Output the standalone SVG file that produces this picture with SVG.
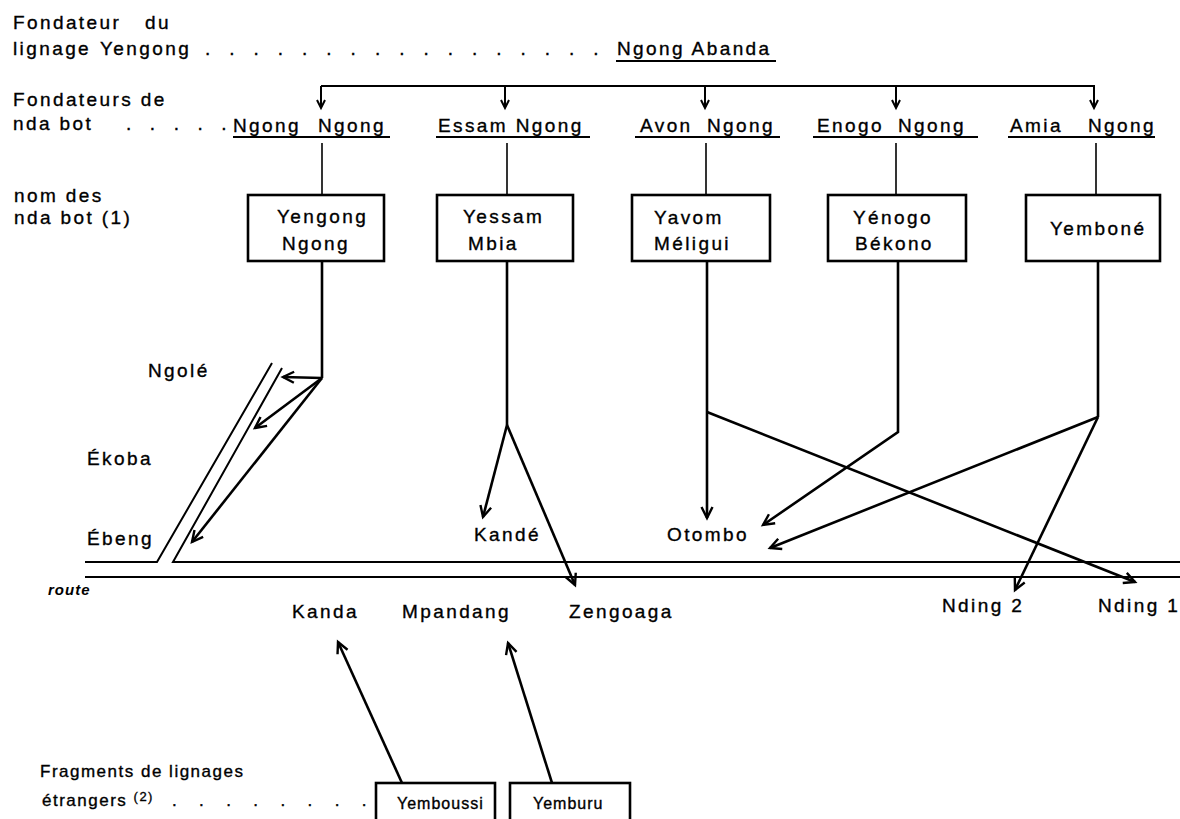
<svg xmlns="http://www.w3.org/2000/svg" width="1180" height="819" viewBox="0 0 1180 819">
<style>
text{font-family:"Liberation Sans",Arial,sans-serif;font-size:19px;letter-spacing:2.4px;fill:#000;stroke:#000;stroke-width:0.35}
.sm{font-size:17px;letter-spacing:1.5px}
.bx{font-size:16px;letter-spacing:1px}
.it{font-style:italic;font-weight:bold;font-size:15px;letter-spacing:1px;stroke-width:0}
.thin{stroke:#000;stroke-width:1.6;fill:none}
.mid{stroke:#000;stroke-width:2;fill:none}
.thick{stroke:#000;stroke-width:2.6;fill:none}
.box{stroke:#000;stroke-width:2.6;fill:#fff}
</style>
<defs>
<marker id="ah" markerUnits="userSpaceOnUse" markerWidth="14" markerHeight="14" refX="12" refY="6" orient="auto" overflow="visible">
<path d="M1,0.5 L12,6 L1,11.5" fill="none" stroke="#000" stroke-width="2.4"/>
</marker>
<marker id="ahs" markerUnits="userSpaceOnUse" markerWidth="12" markerHeight="12" refX="9" refY="5" orient="auto" overflow="visible">
<path d="M1,1 L9,5 L1,9" fill="none" stroke="#000" stroke-width="2"/>
</marker>
</defs>

<g id="labels">
<text x="13" y="29">Fondateur</text><text x="145" y="29">du</text>
<text x="13" y="55">lignage</text><text x="100" y="55">Yengong</text>
<text x="205" y="55" textLength="396" lengthAdjust="spacing">.................</text>
<text x="13" y="106">Fondateurs de</text>
<text x="13" y="130">nda bot</text>
<text x="126" y="130" textLength="103" lengthAdjust="spacing">.....</text>
<text x="14" y="202">nom des</text>
<text x="14" y="224">nda bot (1)</text>
<text class="it" x="48" y="595">route</text>
<text class="sm" x="40" y="777">Fragments de lignages</text>
<text class="sm" x="42" y="806">étrangers <tspan font-size="13" dy="-5">(2)</tspan><tspan dy="5" x="172" textLength="196" lengthAdjust="spacing">........</tspan></text>
</g>

<g id="connectors">
<line class="mid" x1="321" y1="86" x2="1095" y2="86"/>
<line class="mid" x1="321" y1="86" x2="321" y2="108" marker-end="url(#ahs)"/>
<line class="mid" x1="505" y1="86" x2="505" y2="108" marker-end="url(#ahs)"/>
<line class="mid" x1="705" y1="86" x2="705" y2="108" marker-end="url(#ahs)"/>
<line class="mid" x1="896" y1="86" x2="896" y2="108" marker-end="url(#ahs)"/>
<line class="mid" x1="1094" y1="86" x2="1094" y2="108" marker-end="url(#ahs)"/>
<line class="thin" x1="322" y1="143" x2="322" y2="195"/>
<line class="thin" x1="507" y1="143" x2="507" y2="195"/>
<line class="thin" x1="706" y1="143" x2="706" y2="195"/>
<line class="thin" x1="896" y1="143" x2="896" y2="195"/>
<line class="thin" x1="1096" y1="143" x2="1096" y2="195"/>
<path class="thick" d="M322,261 V378"/>
<line class="thick" x1="322" y1="378" x2="283" y2="377" marker-end="url(#ah)"/>
<line class="thick" x1="322" y1="378" x2="255" y2="428" marker-end="url(#ah)"/>
<line class="thick" x1="322" y1="378" x2="192" y2="542" marker-end="url(#ah)"/>
<path class="thick" d="M507,261 V425"/>
<line class="thick" x1="507" y1="425" x2="483" y2="517" marker-end="url(#ah)"/>
<line class="thick" x1="507" y1="425" x2="575" y2="585" marker-end="url(#ah)"/>
<line class="thick" x1="707" y1="261" x2="707" y2="518" marker-end="url(#ah)"/>
<line class="thick" x1="707" y1="412" x2="1135" y2="582" marker-end="url(#ah)"/>
<path class="thick" d="M898,261 V432 L763,525" marker-end="url(#ah)"/>
<path class="thick" d="M1098,261 V417"/>
<line class="thick" x1="1098" y1="417" x2="770" y2="548" marker-end="url(#ah)"/>
<line class="thick" x1="1098" y1="417" x2="1015" y2="590" marker-end="url(#ah)"/>
<line class="thick" x1="402" y1="783" x2="338" y2="642" marker-end="url(#ah)"/>
<line class="thick" x1="552" y1="783" x2="508" y2="643" marker-end="url(#ah)"/>
</g>

<g id="road">
<path class="mid" d="M85,562 H157 L272,363"/>
<path class="mid" d="M1180,562 H173 L282,368"/>
<path class="mid" d="M85,577 H1180"/>
</g>

<g id="ngong-abanda">
<text x="617" y="55">Ngong Abanda</text>
<line class="mid" x1="616" y1="61" x2="776" y2="61"/>
</g>
<g id="ngong-ngong">
<text x="233" y="132">Ngong</text><text x="318" y="132">Ngong</text>
<line class="mid" x1="233" y1="137" x2="390" y2="137"/>
</g>
<g id="essam-ngong">
<text x="438" y="132">Essam Ngong</text>
<line class="mid" x1="436" y1="137" x2="590" y2="137"/>
</g>
<g id="avon-ngong">
<text x="640" y="132">Avon</text><text x="707" y="132">Ngong</text>
<line class="mid" x1="635" y1="137" x2="780" y2="137"/>
</g>
<g id="enogo-ngong">
<text x="817" y="132">Enogo</text><text x="898" y="132">Ngong</text>
<line class="mid" x1="813" y1="137" x2="978" y2="137"/>
</g>
<g id="amia-ngong">
<text x="1010" y="132">Amia</text><text x="1088" y="132">Ngong</text>
<line class="mid" x1="1008" y1="137" x2="1155" y2="137"/>
</g>

<g id="yengong-ngong">
<rect class="box" x="248" y="195" width="136" height="66"/>
<text x="277" y="223">Yengong</text><text x="282" y="250">Ngong</text>
</g>
<g id="yessam-mbia">
<rect class="box" x="437" y="195" width="136" height="66"/>
<text x="463" y="223">Yessam</text><text x="468" y="250">Mbia</text>
</g>
<g id="yavom-meligui">
<rect class="box" x="632" y="195" width="138" height="66"/>
<text x="654" y="224">Yavom</text><text x="654" y="250">Méligui</text>
</g>
<g id="yenogo-bekono">
<rect class="box" x="828" y="195" width="138" height="66"/>
<text x="853" y="224">Yénogo</text><text x="855" y="250">Békono</text>
</g>
<g id="yembone">
<rect class="box" x="1026" y="195" width="134" height="66"/>
<text x="1050" y="235">Yemboné</text>
</g>

<g id="places">
<text x="148" y="377">Ngolé</text>
<text x="87" y="465">Ékoba</text>
<text x="87" y="545">Ébeng</text>
<text x="474" y="541">Kandé</text>
<text x="667" y="541">Otombo</text>
<text x="292" y="618">Kanda</text>
<text x="402" y="618">Mpandang</text>
<text x="569" y="618">Zengoaga</text>
<text x="942" y="612">Nding 2</text>
<text x="1098" y="612">Nding 1</text>
</g>

<g id="yemboussi">
<rect class="box" x="376" y="783" width="119" height="50"/>
<text class="bx" x="397" y="809">Yemboussi</text>
</g>
<g id="yemburu">
<rect class="box" x="510" y="783" width="120" height="50"/>
<text class="bx" x="533" y="809">Yemburu</text>
</g>
</svg>
